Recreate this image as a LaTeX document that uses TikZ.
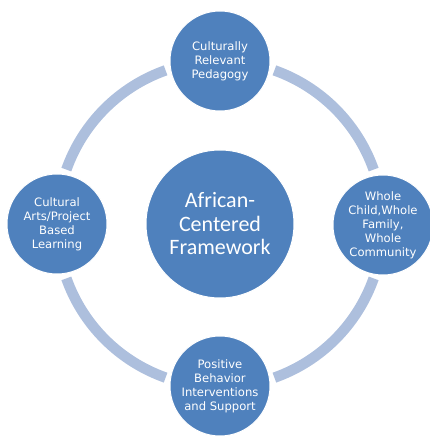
\documentclass[tikz,border=0pt]{standalone}
\usepackage{fontspec}
\setmainfont{DejaVu Sans}
\newfontfamily\hubfont{Carlito}
\definecolor{hubblue}{HTML}{4F81BD}
\definecolor{ringblue}{HTML}{ADBFDD}
\begin{document}
\begin{tikzpicture}[x=1pt,y=1pt,
  hub/.style={circle, fill=hubblue, draw=white, line width=1pt,
    minimum size=148pt, inner sep=0pt, text=white, align=center,
    font=\hubfont\fontsize{22}{23.5}\selectfont},
  spoke/.style={circle, fill=hubblue, draw=white, line width=1pt,
    minimum size=100pt, inner sep=0pt, text=white, align=center,
    font=\fontsize{11.6}{14}\selectfont},
  ringarc/.style={draw=ringblue, line width=10.5pt}]
\useasboundingbox (0,0) rectangle (429,437);
\coordinate (c) at (220,213);

% ring segments between the outer circles
\foreach \a in {0,90,180,270}{
  \coordinate (arcstart\a) at ([shift={(\a+19.5:163)}]c);
  \draw[ringarc] (arcstart\a) arc[start angle=\a+19.5, end angle=\a+70.5, radius=163];
}

% central circle
\node[hub] (hub) at (c) {African-\\Centered\\Framework};

% outer circles
\node[spoke] (top) at (220,376) {Culturally\\Relevant\\Pedagogy};
\node[spoke] (right) at (383,212) {Whole\\Child,Whole\\Family,\\Whole\\Community};
\node[spoke] (bottom) at (220,51) {Positive\\Behavior\\Interventions\\and Support};
\node[spoke] (left) at (57,213) {Cultural\\Arts/Project\\Based\\Learning};
\end{tikzpicture}
\end{document}
